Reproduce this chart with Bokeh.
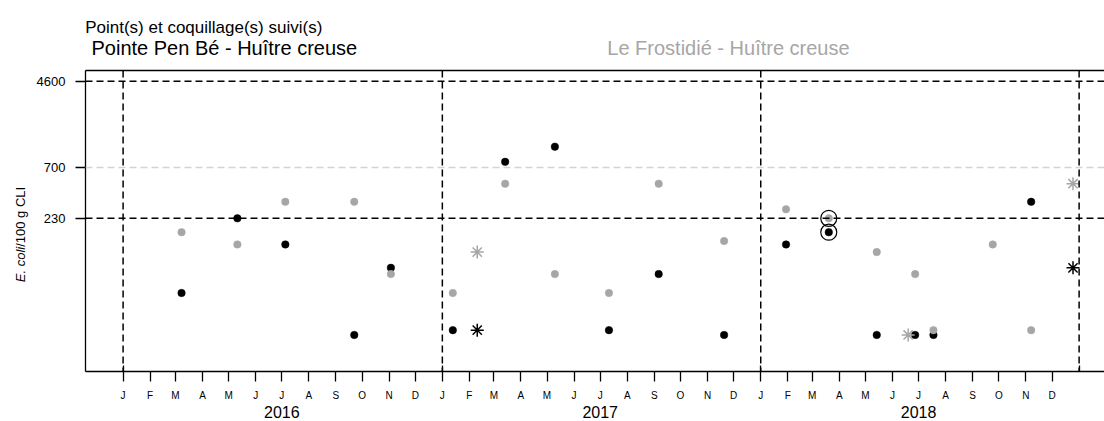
import pandas as pd
from bokeh.plotting import figure
from bokeh.layouts import column, row
from bokeh.models import Range1d, LinearAxis, FixedTicker, Span, Label, ColumnDataSource
from bokeh.embed import file_html
from bokeh.resources import INLINE

# ---------------- data ----------------
month_letters = ["J", "F", "M", "A", "M", "J", "J", "A", "S", "O", "N", "D"]
years = [2016, 2017, 2018]

# Pointe Pen Bé - Huître creuse (black)
pen_dates = ["2016-03-08", "2016-05-11", "2016-07-05", "2016-09-22", "2016-11-03",
             "2017-01-13", "2017-02-10", "2017-03-14", "2017-05-10", "2017-07-11",
             "2017-09-06", "2017-11-20", "2018-01-30", "2018-03-20", "2018-05-14",
             "2018-06-27", "2018-07-18", "2018-11-07", "2018-12-25"]
pen_values = [45, 230, 130, 18, 78,
              20, 20, 790, 1100, 20,
              68, 18, 130, 170, 18,
              18, 18, 330, 78]
pen_markers = ["dot", "dot", "dot", "dot", "dot",
               "dot", "star", "dot", "dot", "dot",
               "dot", "dot", "dot", "dot", "dot",
               "dot", "dot", "dot", "star"]

# Le Frostidié - Huître creuse (grey)
fro_dates = ["2016-03-08", "2016-05-11", "2016-07-05", "2016-09-22", "2016-11-03",
             "2017-01-13", "2017-02-10", "2017-03-14", "2017-05-10", "2017-07-11",
             "2017-09-06", "2017-11-20", "2018-01-30", "2018-03-20", "2018-05-14",
             "2018-06-19", "2018-06-27", "2018-07-18", "2018-09-24", "2018-11-07",
             "2018-12-25"]
fro_values = [170, 130, 330, 330, 68,
              45, 110, 490, 68, 45,
              490, 140, 280, 230, 110,
              18, 68, 20, 130, 20,
              490]
fro_markers = ["dot", "dot", "dot", "dot", "dot",
               "dot", "star", "dot", "dot", "dot",
               "dot", "dot", "dot", "dot", "dot",
               "star", "dot", "dot", "dot", "dot",
               "star"]

# circled results
circled_dates = ["2018-03-20", "2018-03-20"]
circled_values = [230, 170]

# thresholds / y ticks
y_ticks = [230, 700, 4600]
threshold_values = [230, 700, 4600]
threshold_colors = ["black", "#d3d3d3", "black"]

BLACK = "#000000"
GREY = "#a6a6a6"
FONT = "Liberation Sans"

W, H = 1104, 421
HEAD_H = 62
LEFT_W = 30
FRAME_TOP, FRAME_BOTTOM = 70, 371   # page rows of the plot frame


def ms(d):
    return pd.Timestamp(d).value / 1e6


def blank_fig(w, h, x0, x1, y0, y1):
    f = figure(width=w, height=h, output_backend="svg", toolbar_location=None,
               x_range=Range1d(x0, x1), y_range=Range1d(y0, y1),
               x_axis_location=None, y_axis_location=None, min_border=0,
               min_border_left=0, min_border_right=0, min_border_top=0, min_border_bottom=0)
    f.grid.visible = False
    f.outline_line_color = None
    f.background_fill_color = "white"
    f.border_fill_color = "white"
    return f


# ---------------- header (titles), page pixel coordinates ----------------
head = blank_fig(W, HEAD_H, 0, W, HEAD_H, 0)
head.add_layout(Label(x=84.7, y=26.5, text="Point(s) et coquillage(s) suivi(s)", text_font=FONT,
                      text_font_size="17px", text_color="black",
                      text_align="left", text_baseline="alphabetic"))
head.add_layout(Label(x=91, y=47.7, text="Pointe Pen Bé - Huître creuse", text_font=FONT,
                      text_font_size="20px", text_color="black",
                      text_align="left", text_baseline="alphabetic"))
head.add_layout(Label(x=606.8, y=47.3, text="Le Frostidié - Huître creuse", text_font=FONT,
                      text_font_size="20px", text_color=GREY,
                      text_align="left", text_baseline="alphabetic"))

# ---------------- left strip (y title); its frame is aligned with the main frame ----------------
left = blank_fig(LEFT_W, H - HEAD_H, 0, LEFT_W, FRAME_BOTTOM, FRAME_TOP)
left.add_layout(Label(x=20, y=281.7, angle=90, angle_units="deg",
                      text="E. coli", text_font=FONT, text_font_style="italic",
                      text_font_size="13px", text_color="black",
                      text_align="left", text_baseline="alphabetic"))
left.add_layout(Label(x=20, y=246.3, angle=90, angle_units="deg",
                      text="/100 g CLI", text_font=FONT,
                      text_font_size="13px", text_color="black",
                      text_align="left", text_baseline="alphabetic"))

# ---------------- main plot ----------------
x_start = ms("2016-01-01") - 43.1 * 86400000.0
x_end = ms("2016-01-01") + 1125.1 * 86400000.0

p = figure(width=W - LEFT_W, height=H - HEAD_H, output_backend="svg", toolbar_location=None,
           y_axis_type="log",
           x_range=Range1d(x_start, x_end), y_range=Range1d(8.10, 5812),
           min_border_left=55, min_border_right=0, min_border_top=8, min_border_bottom=50)
p.grid.visible = False
p.outline_line_color = None
p.background_fill_color = "white"
p.border_fill_color = "white"

# x axis (months)
month_starts = pd.date_range(f"{years[0]}-01-01", f"{years[-1]}-12-01", freq="MS")
month_ticks = [ms(d) for d in month_starts]
year_starts = [ms(f"{y}-01-01") for y in years + [years[-1] + 1]]

xa = p.xaxis[0]
xa.ticker = FixedTicker(ticks=month_ticks, minor_ticks=year_starts)
xa.major_label_overrides = {t: month_letters[d.month - 1] for t, d in zip(month_ticks, month_starts)}
xa.major_tick_in = 0
xa.major_tick_out = 10
xa.minor_tick_in = 6
xa.minor_tick_out = 0
xa.axis_line_width = 1.3
xa.major_tick_line_width = 1.3
xa.minor_tick_line_width = 1.3
xa.major_label_text_font = FONT
xa.major_label_text_font_size = "10px"
xa.major_label_text_color = "black"
xa.major_label_standoff = 8

# second x axis: year names centred on each year
year_axis = LinearAxis(ticker=FixedTicker(ticks=[ms(f"{y}-07-01") for y in years]),
                       major_label_overrides={ms(f"{y}-07-01"): str(y) for y in years},
                       axis_line_color=None, major_tick_line_color=None, minor_tick_line_color=None,
                       major_tick_out=0, major_tick_in=0, minor_tick_out=0, minor_tick_in=0,
                       major_label_standoff=2, major_label_text_font=FONT,
                       major_label_text_font_size="16px", major_label_text_color="black")
p.add_layout(year_axis, "below")

# y axis
ya = p.yaxis[0]
ya.ticker = FixedTicker(ticks=y_ticks)
ya.major_label_overrides = {float(t): str(t) for t in y_ticks}
ya.major_tick_in = 0
ya.major_tick_out = 10
ya.axis_line_width = 1.3
ya.major_tick_line_width = 1.3
ya.major_label_text_font = FONT
ya.major_label_text_font_size = "13px"
ya.major_label_text_color = "black"
ya.major_label_standoff = 10

# top border line
top_axis = LinearAxis(ticker=FixedTicker(ticks=[]), axis_line_width=1.3,
                      major_tick_line_color=None, minor_tick_line_color=None,
                      major_tick_out=0, major_tick_in=0, minor_tick_out=0, minor_tick_in=0,
                      major_label_standoff=0, major_label_text_font_size="0px")
p.add_layout(top_axis, "above")

# reference lines
for t in year_starts:
    p.add_layout(Span(location=t, dimension="height", line_color="black",
                      line_width=1.5, line_dash="7 4"))
for v, c in zip(threshold_values, threshold_colors):
    p.add_layout(Span(location=v, dimension="width", line_color=c,
                      line_width=1.5, line_dash="7 4"))


# points
def draw(dates, values, markers, color):
    dot = ColumnDataSource(dict(x=[pd.Timestamp(d) for d, m in zip(dates, markers) if m == "dot"],
                                y=[v for v, m in zip(values, markers) if m == "dot"]))
    star = ColumnDataSource(dict(x=[pd.Timestamp(d) for d, m in zip(dates, markers) if m == "star"],
                                 y=[v for v, m in zip(values, markers) if m == "star"]))
    p.scatter("x", "y", source=dot, marker="circle", size=7.5,
              fill_color=color, line_color=color, line_width=0.5)
    p.scatter("x", "y", source=star, marker="asterisk", size=13,
              line_color=color, line_width=1.5)


draw(pen_dates, pen_values, pen_markers, BLACK)
draw(fro_dates, fro_values, fro_markers, GREY)

p.scatter(x=[pd.Timestamp(d) for d in circled_dates], y=circled_values, marker="circle",
          size=16, fill_color=None, line_color="black", line_width=1.2)

layout = column(head, row(left, p))
open("out.html", "w").write(file_html(layout, INLINE))
